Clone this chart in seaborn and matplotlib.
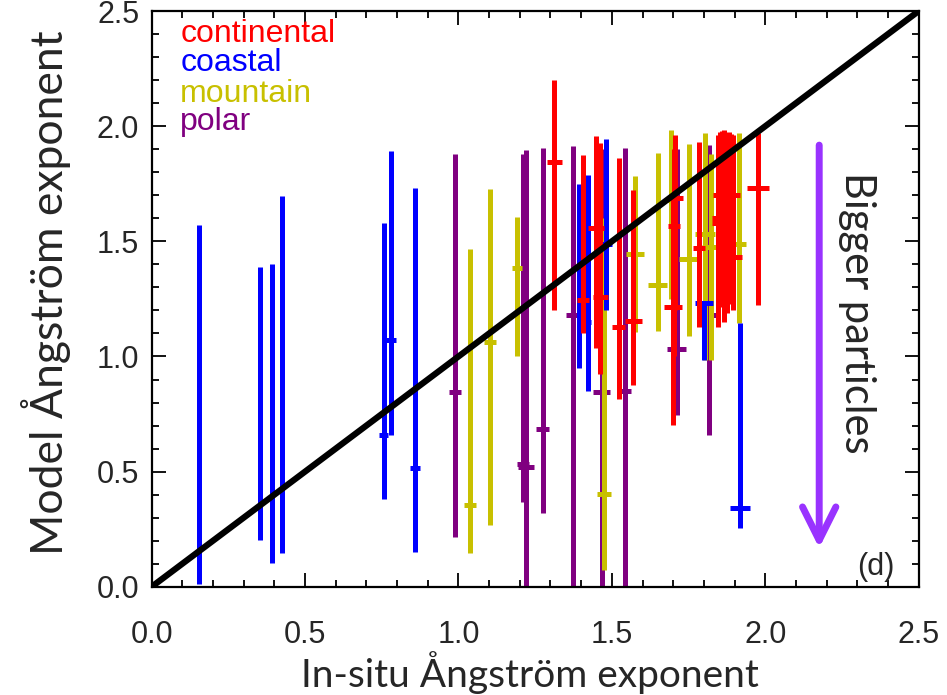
import matplotlib
matplotlib.use("Agg")
import matplotlib.pyplot as plt
import seaborn as sns
import numpy as np
import pandas as pd

# ---- data (in-situ x, model y with ranges) ----
cont_x    = [1.312, 1.407, 1.449, 1.462, 1.522, 1.570, 1.700, 1.703, 1.706, 1.785,
             1.845, 1.852, 1.860, 1.867, 1.874, 1.881, 1.888, 1.895, 1.976]
cont_xerr = [0.024, 0.020, 0.027, 0.025, 0.020, 0.027, 0.030, 0.020, 0.025, 0.020,
             0.020, 0.025, 0.030, 0.020, 0.025, 0.020, 0.030, 0.030, 0.037]
cont_y    = [1.846, 1.247, 1.556, 1.259, 1.129, 1.155, 1.216, 1.566, 1.688, 1.470,
             1.600, 1.580, 1.700, 1.350, 1.560, 1.250, 1.700, 1.430, 1.733]
cont_lo   = [1.200, 1.104, 1.037, 0.926, 0.815, 0.876, 0.702, 1.000, 1.200, 1.129,
             1.129, 1.300, 1.215, 1.150, 1.190, 1.230, 1.300, 1.200, 1.223]
cont_hi   = [2.200, 1.874, 1.957, 1.928, 1.860, 1.725, 1.700, 1.900, 1.961, 1.932,
             1.960, 1.975, 1.980, 1.985, 1.970, 1.975, 1.965, 1.960, 1.971]

coast_x    = [0.154, 0.352, 0.393, 0.426, 0.756, 0.781, 0.857, 1.394, 1.421, 1.480, 1.800, 1.918]
coast_xerr = [0.000, 0.006, 0.006, 0.005, 0.015, 0.016, 0.016, 0.000, 0.012, 0.020, 0.030, 0.034]
coast_y    = [0.170, 0.293, 0.247, 0.772, 0.660, 1.070, 0.517, 1.156, 1.150, 1.488, 1.233, 0.344]
coast_lo   = [0.010, 0.205, 0.103, 0.147, 0.379, 0.660, 0.152, 0.951, 0.852, 1.203, 0.984, 0.253]
coast_hi   = [1.571, 1.389, 1.400, 1.695, 1.580, 1.894, 1.730, 1.749, 1.788, 1.943, 1.240, 1.144]

mount_x    = [1.038, 1.104, 1.190, 1.474, 1.576, 1.649, 1.693, 1.750, 1.804, 1.824, 1.913]
mount_xerr = [0.020, 0.020, 0.016, 0.024, 0.030, 0.030, 0.020, 0.030, 0.032, 0.030, 0.025]
mount_y    = [0.356, 1.064, 1.385, 0.403, 1.443, 1.310, 1.680, 1.422, 1.531, 1.476, 1.488]
mount_lo   = [0.145, 0.267, 1.000, 0.074, 1.107, 1.110, 1.250, 1.089, 0.984, 0.984, 1.144]
mount_hi   = [1.467, 1.729, 1.605, 1.600, 1.783, 1.885, 1.983, 1.925, 1.971, 1.880, 1.971]

polar_x    = [0.988, 1.210, 1.220, 1.274, 1.374, 1.467, 1.542, 1.711, 1.816]
polar_xerr = [0.020, 0.020, 0.026, 0.022, 0.024, 0.027, 0.022, 0.032, 0.023]
polar_y    = [0.847, 0.533, 0.519, 0.684, 1.178, 0.847, 0.850, 1.031, 1.178]
polar_lo   = [0.215, 0.370, 0.000, 0.321, 0.000, 0.000, 0.000, 0.746, 0.659]
polar_hi   = [1.880, 1.880, 1.895, 1.905, 1.915, 1.900, 1.905, 1.900, 1.918]

site_names  = ["continental", "coastal", "mountain", "polar"]
site_colors = ["#ff0000", "#0000ff", "#c8c000", "#800080"]
arrow_color = "#9933ff"

groups = {
    "continental": (cont_x, cont_xerr, cont_y, cont_lo, cont_hi),
    "coastal": (coast_x, coast_xerr, coast_y, coast_lo, coast_hi),
    "mountain": (mount_x, mount_xerr, mount_y, mount_lo, mount_hi),
    "polar": (polar_x, polar_xerr, polar_y, polar_lo, polar_hi),
}

sns.set_style("ticks")
plt.rcParams["font.family"] = ["Liberation Sans", "DejaVu Sans"]

fig = plt.figure(figsize=(9.47, 6.95), dpi=100)
ax = fig.add_axes([0.1602, 0.1558, 0.8098, 0.8282])

# draw polar first so continental ends up on top
zorders = {"polar": 2, "mountain": 3, "coastal": 4, "continental": 5}
for name, color in zip(site_names, site_colors):
    x, xerr, y, lo, hi = [np.array(v) for v in groups[name]]
    yerr = np.vstack([y - lo, hi - y])
    ax.errorbar(x, y, xerr=xerr, yerr=yerr, fmt="none", ecolor=color,
                elinewidth=3.6, capsize=0, zorder=zorders[name])

# 1:1 line
one2one = pd.DataFrame({"x": [0.0, 2.5], "y": [0.0, 2.5]})
sns.lineplot(data=one2one, x="x", y="y", color="black", linewidth=4.5, ax=ax, zorder=10)

ax.set_xlim(0, 2.5)
ax.set_ylim(0, 2.5)
ax.set_xticks(np.arange(0, 2.51, 0.5))
ax.set_yticks(np.arange(0, 2.51, 0.5))
ax.set_xticks(np.arange(0, 2.51, 0.1), minor=True)
ax.set_yticks(np.arange(0, 2.51, 0.1), minor=True)
ax.xaxis.set_major_formatter(matplotlib.ticker.FormatStrFormatter("%.1f"))
ax.yaxis.set_major_formatter(matplotlib.ticker.FormatStrFormatter("%.1f"))
ax.tick_params(which="both", direction="in", top=True, right=True, width=1.3, color="black")
ax.tick_params(which="major", length=10, labelsize=22)
ax.tick_params(which="minor", length=5)
ax.tick_params(axis="x", which="major", pad=24)
ax.tick_params(axis="y", which="major", pad=9)
for sp in ax.spines.values():
    sp.set_linewidth(1.6)
    sp.set_color("black")

ax.set_xlabel("In-situ Ångström exponent", family=["Lato", "DejaVu Sans"], fontsize=28)
ax.set_ylabel("Model Ångström exponent", family=["Lato", "DejaVu Sans"], fontsize=32)
ax.xaxis.set_label_coords(0.493, -0.112)
ax.yaxis.set_label_coords(-0.105, 0.51)

# category labels in the top-left corner
label_y = [2.40, 2.275, 2.14, 2.02]
for name, color, ly in zip(site_names, site_colors, label_y):
    ax.text(0.093, ly, name, color=color, fontsize=23, va="center", ha="left", zorder=12)

# "Bigger particles" arrow
ax.annotate("", xy=(2.176, 0.168), xytext=(2.176, 1.918),
            arrowprops=dict(arrowstyle="->, head_length=1.2, head_width=0.6",
                            color=arrow_color, lw=5, mutation_scale=20,
                            shrinkA=0, shrinkB=0),
            zorder=12)
ax.text(2.30, 1.19, "Bigger particles", rotation=-90, ha="center", va="center",
        family=["Lato", "DejaVu Sans"], fontsize=30)
ax.text(2.362, 0.085, "(d)", ha="center", va="center", fontsize=22)

fig.savefig("out.png", dpi=100)
